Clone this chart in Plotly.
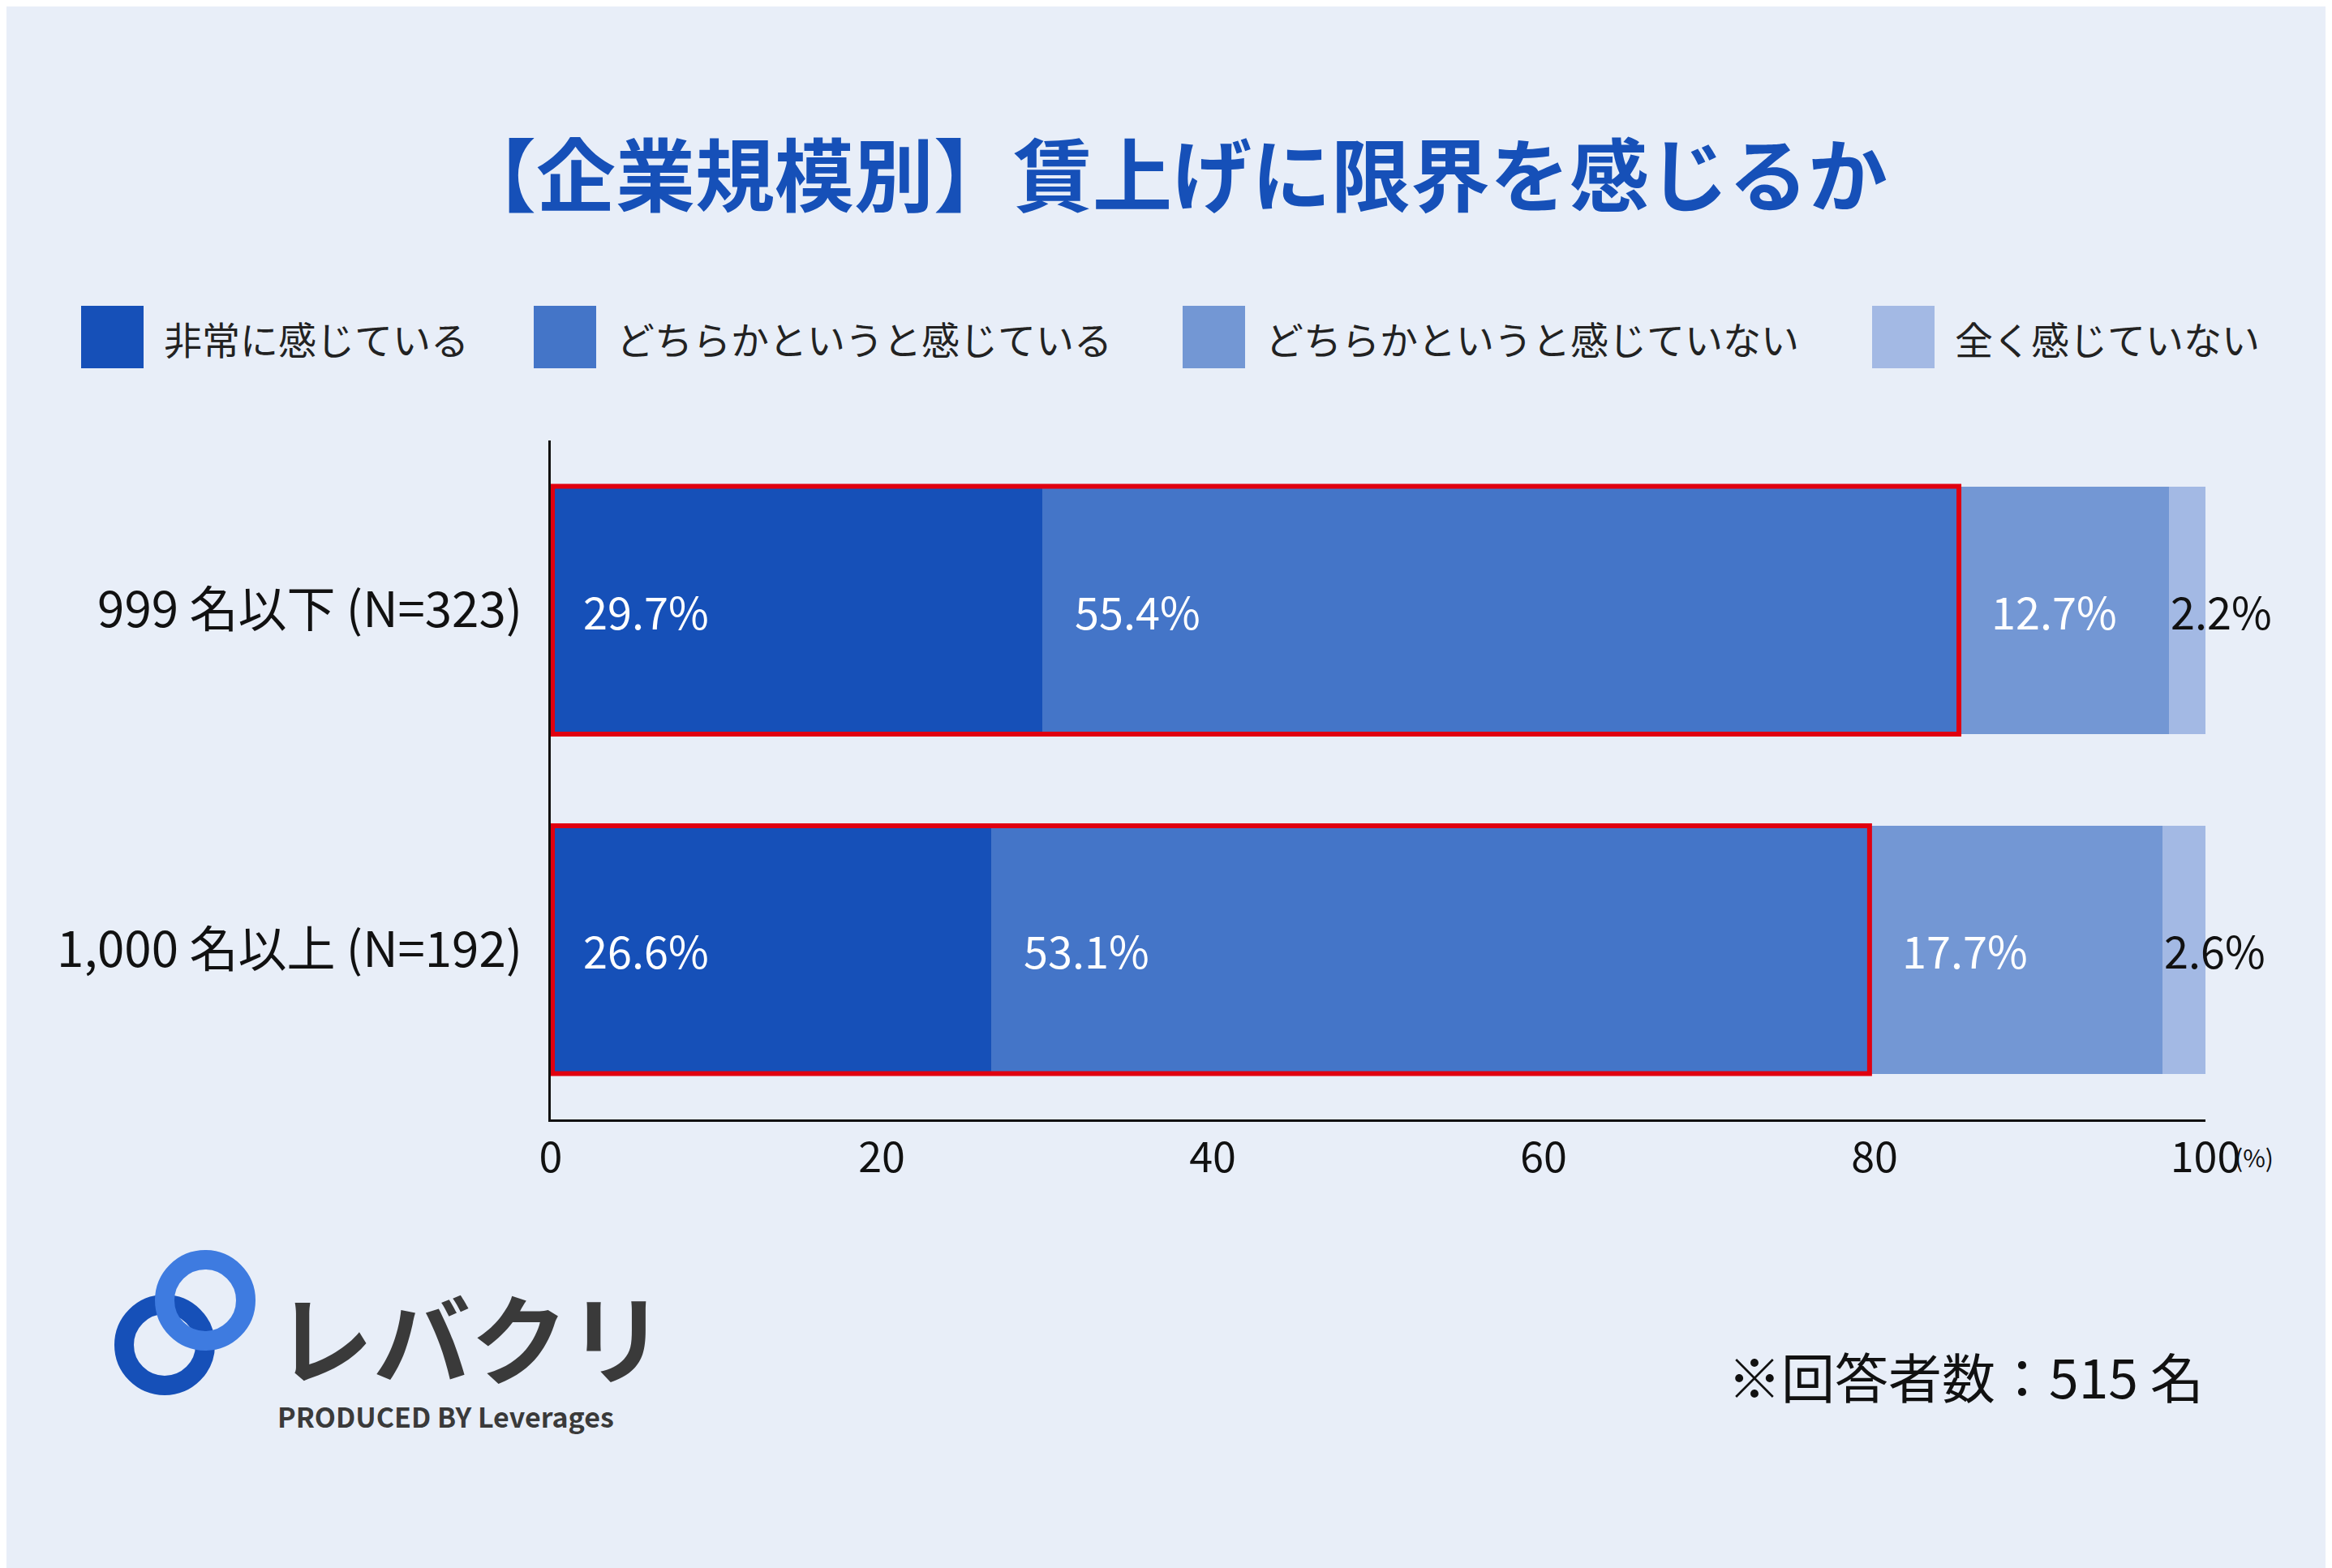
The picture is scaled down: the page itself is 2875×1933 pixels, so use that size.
import plotly.graph_objects as go

categories = ["999 名以下 (N=323)", "1,000 名以上 (N=192)"]
series_names = ["非常に感じている", "どちらかというと感じている", "どちらかというと感じていない", "全く感じていない"]
values = [[29.7, 26.6], [55.4, 53.1], [12.7, 17.7], [2.2, 2.6]]
colors = ["#1650B8", "#4475C8", "#7397D4", "#A3B9E4"]
tick_vals = [0, 20, 40, 60, 80, 100]

W, H = 2875, 1933
L, R, T, B = 671, 164, 535, 561
FONT = "Noto Sans CJK JP"

fig = go.Figure()
for name, vals, c in zip(series_names, values, colors):
    fig.add_trace(go.Bar(y=categories, x=vals, orientation="h", name=name,
                         marker=dict(color=c, line=dict(width=0)), showlegend=False))

ann = []
for i, cat in enumerate(categories):
    cum = 0
    for s, vals in enumerate(values):
        v = vals[i]
        last = s == len(values) - 1
        ann.append(dict(x=cum, y=cat, xref="x", yref="y", text=f"{v}%", showarrow=False,
                        xanchor="left", yanchor="middle", xshift=0 if last else 38,
                        font=dict(size=54, color="#111" if last else "white", family=FONT)))
        cum += v
    top2 = values[0][i] + values[1][i]
    fig.add_shape(type="rect", xref="x", yref="y", x0=0.1, x1=top2, y0=i - 0.365, y1=i + 0.365,
                  line=dict(color="#E00010", width=6))

def px(x, y):
    return (x - L) / (W - L - R), (H - B - y) / (H - T - B)

leg_x = [92, 650, 1450, 2300]
for name, c, lx in zip(series_names, colors, leg_x):
    x0, y0 = px(lx, 446)
    x1, y1 = px(lx + 77, 369)
    fig.add_shape(type="rect", xref="paper", yref="paper", x0=x0, x1=x1, y0=y0, y1=y1,
                  fillcolor=c, line=dict(width=0))
    tx, ty = px(lx + 100, 408)
    ann.append(dict(x=tx, y=ty, xref="paper", yref="paper", text=name, showarrow=False,
                    xanchor="left", yanchor="middle",
                    font=dict(size=47, color="#222", family=FONT)))

def add_text(x, y, text, size, color, xanchor="center"):
    ax, ay = px(x, y)
    ann.append(dict(x=ax, y=ay, xref="paper", yref="paper", text=text, showarrow=False,
                    xanchor=xanchor, yanchor="middle", font=dict(size=size, color=color, family=FONT)))

add_text(1437, 202, "<b>【企業規模別】賃上げに限界を感じるか</b>", 98, "#1650B8")
add_text(2711, 1687, "※回答者数：515 名", 66, "#111", "right")
add_text(2745, 1418, "(%)", 30, "#111", "left")
add_text(330, 1638, "<b>レバクリ</b>", 120, "#3a3a3a", "left")
add_text(332, 1737, "<b>PRODUCED BY Leverages</b>", 34, "#3a3a3a", "left")

for (cx, cy, col) in [(195, 1650, "#1650B8"), (245, 1595, "#3E7BE0")]:
    x0, y0 = px(cx - 50, cy - 50)
    x1, y1 = px(cx + 50, cy + 50)
    fig.add_shape(type="circle", xref="paper", yref="paper", x0=x0, x1=x1, y0=y1, y1=y0,
                  line=dict(color=col, width=24))

fig.update_layout(
    width=W, height=H, barmode="stack", bargap=0.27,
    margin=dict(l=L, r=R, t=T, b=B),
    paper_bgcolor="#E8EEF8", plot_bgcolor="#E8EEF8",
    annotations=ann,
    xaxis=dict(range=[0, 100], tickvals=tick_vals, showgrid=False, zeroline=False,
               showline=True, linecolor="#111", linewidth=3, ticks="",
               tickfont=dict(size=52, color="#111", family=FONT)),
    yaxis=dict(autorange="reversed", showgrid=False, showline=True, linecolor="#111", linewidth=3,
               ticks="", ticklabelstandoff=20, tickfont=dict(size=60, color="#111", family=FONT)),
)
fig.write_html("out.html")
